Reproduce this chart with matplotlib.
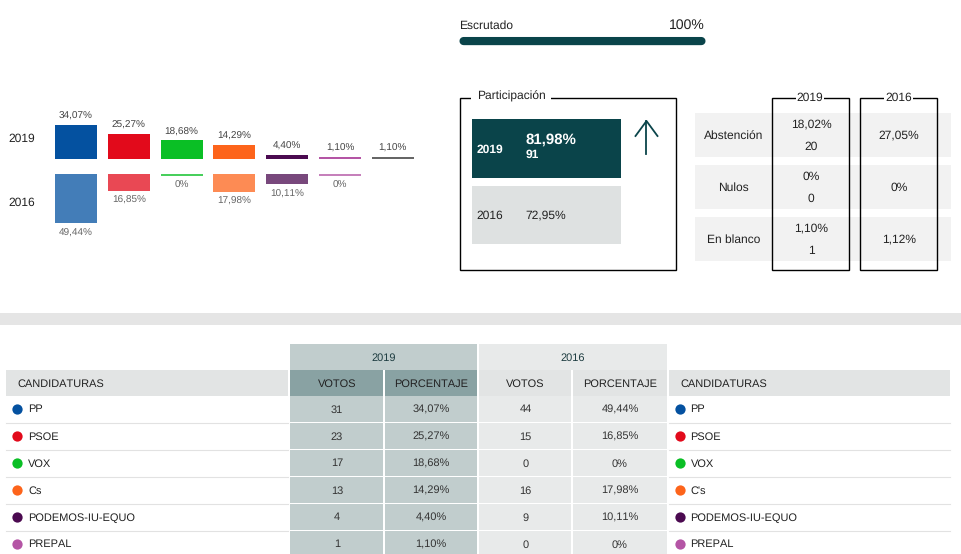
import matplotlib
matplotlib.use('Agg')
import matplotlib.pyplot as plt
from matplotlib.patches import Rectangle, FancyBboxPatch

plt.rcParams['font.family'] = ['Liberation Sans', 'DejaVu Sans']
plt.rcParams['text.hinting'] = 'no_hinting'
plt.rcParams['text.hinting_factor'] = 1

# data
parties = ['PP', 'PSOE', 'VOX', 'Cs', 'PODEMOS-IU-EQUO', 'PREPAL']
parties_2016 = ['PP', 'PSOE', 'VOX', "C's", 'PODEMOS-IU-EQUO', 'PREPAL']
colors = ['#0451a0', '#e20a1b', '#0abf25', '#fd641b', '#4b0a50', '#b455a5', '#666666']
pct_2019 = [34.07, 25.27, 18.68, 14.29, 4.40, 1.10, 1.10]
pct_2016 = [49.44, 16.85, 0, 17.98, 10.11, 0]
votes_2019 = [31, 23, 17, 13, 4, 1]
votes_2016 = [44, 15, 0, 16, 9, 0]
part_2019 = '81,98%'
part_votes_2019 = '91'
part_2016 = '72,95%'
other_labels = ['Abstención', 'Nulos', 'En blanco']
other_2019 = ['18,02%', '0%', '1,10%']
other_votes_2019 = ['20', '0', '1']
other_2016 = ['27,05%', '0%', '1,12%']

DARK = '#0a444a'
TXT = '#222222'

def es(v):
    if v == 0:
        return '0%'
    return f'{v:.2f}%'.replace('.', ',')

def rect(x0, y0, x1, y1, c, **kw):
    ax.add_patch(Rectangle((x0, y0), x1 - x0, y1 - y0, fc=c, ec='none', **kw))

def box(x0, y0, x1, y1):
    ax.add_patch(Rectangle((x0, y0), x1 - x0, y1 - y0, fc='none', ec='black', lw=1.0, zorder=5))

def txt(x, y, s, size=8.0, c=TXT, ha='center', **kw):
    # va center sits a bit high against the page text, so nudge down
    ax.text(x, y + 0.6, s, fontsize=size, color=c, ha=ha, va='center', **kw)

fig = plt.figure(figsize=(9.62, 5.54), dpi=100)
ax = fig.add_axes([0, 0, 1, 1])
ax.set_xlim(0, 962)
ax.set_ylim(554, 0)
ax.axis('off')

# bars, one pixel per percent point
bar_x = [76 + 52.8 * i for i in range(7)]
txt(22, 138, '2019', 8.8)
txt(22, 202.5, '2016', 8.8)
for x, v, c in zip(bar_x, pct_2019, colors):
    h = max(v, 2)
    ax.bar(x, -h, width=42, bottom=159, color=c)
    txt(x, 159 - h - 9, es(v), 7.2, '#444444')
for x, v, c in zip(bar_x, pct_2016, colors):
    h = max(v, 2)
    ax.bar(x, h, width=42, bottom=174, color=c, alpha=0.75)
    txt(x, 174 + h + 9, es(v), 7.2, '#666666')

# escrutado
txt(459.5, 25, 'Escrutado', 8.6, ha='left')
txt(704.5, 24.5, '100%', 9.8, ha='right')
ax.add_patch(FancyBboxPatch((463.5, 41), 238, 0.1, boxstyle='round,pad=0,rounding_size=0', fc=DARK, ec=DARK,
                            lw=5.8, capstyle='round', joinstyle='round'))

# participacion
box(460.5, 97.5, 676.5, 269.5)
txt(477, 96, 'Participación', 8.6, ha='left', zorder=6, bbox=dict(fc='white', ec='none', pad=4))
rect(472, 119, 621, 178, DARK)
rect(472, 186, 621, 244, '#dee1e1')
txt(476.5, 149, '2019', 8.6, 'white', ha='left', fontweight='bold')
txt(525.5, 139, part_2019, 11, 'white', ha='left', fontweight='bold')
txt(525.5, 154, part_votes_2019, 8.4, 'white', ha='left', fontweight='bold')
txt(476.5, 215, '2016', 8.6, ha='left')
txt(525.5, 215, part_2016, 8.6, ha='left')
ax.plot([646.5, 646.5], [121, 154], color=DARK, lw=1.3)
ax.plot([635.5, 646.5, 657.5], [136, 121, 136], color=DARK, lw=1.3)

# abstencion, nulos, en blanco
for i, lab in enumerate(other_labels):
    y0 = 113 + 52 * i
    rect(695, y0, 951, y0 + 44, '#f2f2f2')
    txt(733.5, y0 + 22, lab, 8.6)
    txt(811, y0 + 11, other_2019[i], 8.6)
    txt(811, y0 + 33, other_votes_2019[i], 8.6)
    txt(899, y0 + 22, other_2016[i], 8.6)
box(772.5, 97.5, 849.5, 269.5)
box(860.5, 97.5, 937.5, 269.5)
txt(810, 97, '2019', 8.6, zorder=6, bbox=dict(fc='white', ec='none', pad=0.5))
txt(898.5, 97, '2016', 8.6, zorder=6, bbox=dict(fc='white', ec='none', pad=0.5))

# separator band
rect(0, 313, 962, 325, '#e5e5e5')

# results table
rect(290, 344, 477, 370, '#c1cdcd')
rect(479, 344, 667, 370, '#e8eaea')
txt(384, 357, '2019', 8.0, '#1d3c40')
txt(572.5, 357, '2016', 8.0, '#1d3c40')
rect(6, 370, 288, 396, '#e2e4e4')
rect(669, 370, 950, 396, '#e2e4e4')
rect(290, 370, 383, 396, '#89a2a3')
rect(385, 370, 477, 396, '#89a2a3')
rect(479, 370, 571, 396, '#e2e4e4')
rect(573, 370, 667, 396, '#e2e4e4')
txt(17.5, 383, 'CANDIDATURAS', 8.0, ha='left')
txt(680, 383, 'CANDIDATURAS', 8.0, ha='left')
txt(337, 383, 'VOTOS', 8.0)
txt(431, 383, 'PORCENTAJE', 8.0)
txt(525, 383, 'VOTOS', 8.0)
txt(620, 383, 'PORCENTAJE', 8.0)

for i in range(6):
    y0 = 396 + 27 * i
    y1 = y0 + 26
    yc = y0 + 13
    rect(290, y0, 383, y1, '#c1cdcd')
    rect(385, y0, 477, y1, '#c1cdcd')
    rect(479, y0, 571, y1, '#e8eaea')
    rect(573, y0, 667, y1, '#e8eaea')
    ax.plot([6, 288], [y1 + 0.5, y1 + 0.5], color='#e2e2e2', lw=0.8)
    ax.plot([669, 950], [y1 + 0.5, y1 + 0.5], color='#e2e2e2', lw=0.8)
    ax.plot(17.5, yc - 0.3, 'o', ms=7.4, color=colors[i], mew=0)
    ax.plot(680, yc - 0.3, 'o', ms=7.4, color=colors[i], mew=0)
    txt(28, yc, parties[i], 8.0, ha='left')
    txt(690.5, yc, parties_2016[i], 8.0, ha='left')
    txt(337, yc, str(votes_2019[i]), 8.0, '#333333')
    txt(431, yc, es(pct_2019[i]), 8.0, '#333333')
    txt(525.5, yc, str(votes_2016[i]), 8.0, '#333333')
    txt(620, yc, es(pct_2016[i]), 8.0, '#333333')

ax.set_xlim(0, 962)
ax.set_ylim(554, 0)
fig.savefig('out.png', dpi=100)
